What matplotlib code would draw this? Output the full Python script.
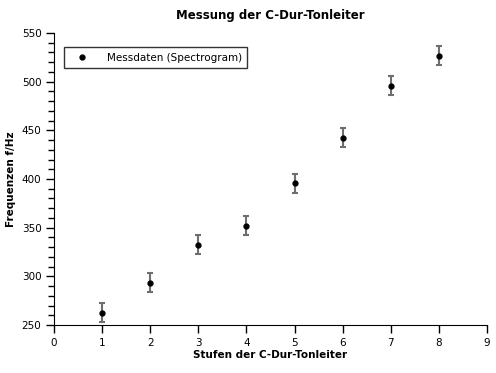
import matplotlib
matplotlib.use("Agg")
from matplotlib import pyplot as plt
from matplotlib.lines import Line2D
from matplotlib.ticker import MultipleLocator

stufen = [1, 2, 3, 4, 5, 6, 7, 8]
frequenz = [262.6, 293.5, 332.5, 352, 395.6, 442.5, 496, 526.8]
fehler = [10, 10, 10, 10, 10, 10, 10, 10]

if __name__ == '__main__':
    plt.rcParams['font.family'] = ['DejaVu Sans']
    fig = plt.figure(figsize=(4.96, 3.73), dpi=100)
    ax = fig.add_axes([54/496, 48/373, 433/496, 292/373])

    ax.errorbar(stufen, frequenz, yerr=fehler, fmt='o', color='black', ms=3.5,
                ecolor='#6e6e6e', elinewidth=1.5, capsize=2, capthick=1.5)

    ax.set_xlim(0, 9)
    ax.set_ylim(250, 550)
    ax.xaxis.set_major_locator(MultipleLocator(1))
    ax.yaxis.set_major_locator(MultipleLocator(50))
    ax.yaxis.set_minor_locator(MultipleLocator(10))
    ax.spines['top'].set_visible(False)
    ax.spines['right'].set_visible(False)
    ax.tick_params(axis='both', which='major', direction='out', length=6, width=1, labelsize=7.5, pad=3)
    ax.tick_params(axis='y', which='minor', direction='out', length=4, width=1)

    ax.set_title("Messung der C-Dur-Tonleiter", fontsize=8.5, fontweight='bold', pad=10)
    ax.set_xlabel("Stufen der C-Dur-Tonleiter", fontsize=7.5, fontweight='bold', labelpad=2)
    ax.set_ylabel("Frequenzen f/Hz", fontsize=7.5, fontweight='bold', labelpad=4)

    griff = Line2D([], [], marker='o', color='black', ms=3.5, linestyle='none')
    leg = ax.legend([griff], ['Messdaten (Spectrogram)'], loc='upper left', fontsize=7.5,
                    frameon=True, fancybox=False, edgecolor='black',
                    bbox_to_anchor=(0.012, 0.97), borderpad=0.55, handletextpad=1.3,
                    handlelength=2.2)
    leg.get_frame().set_linewidth(1)

    fig.savefig("out.png", dpi=100)
